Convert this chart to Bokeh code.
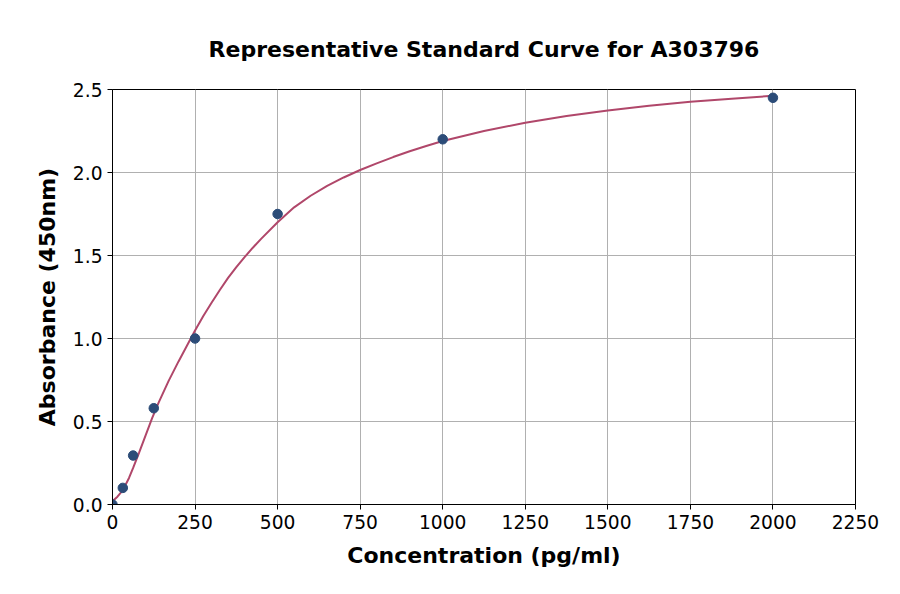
from bokeh.plotting import figure
from bokeh.models import Range1d, FixedTicker, NumeralTickFormatter
from bokeh.embed import file_html
from bokeh.resources import INLINE

# Standard points
conc = [0, 31.25, 62.5, 125, 250, 500, 1000, 2000]
absorb = [0.0, 0.1, 0.295, 0.58, 1.0, 1.75, 2.2, 2.45]

# Fitted curve
curve_x = [0, 15, 31, 50, 62.5, 80, 100, 120, 140, 170, 200, 237, 250, 275, 300,
           325, 350, 375, 400, 425, 450, 500, 550, 600, 650, 700, 750, 800, 850,
           900, 950, 1000, 1125, 1250, 1375, 1500, 1625, 1750, 1875, 2000]
curve_y = [0.02, 0.047, 0.085, 0.16, 0.22, 0.31, 0.415, 0.52, 0.615, 0.745, 0.862,
           1.0, 1.048, 1.135, 1.215, 1.292, 1.365, 1.43, 1.49, 1.547, 1.60, 1.70,
           1.79, 1.86, 1.92, 1.97, 2.015, 2.055, 2.093, 2.128, 2.16, 2.19, 2.25,
           2.30, 2.34, 2.374, 2.402, 2.426, 2.445, 2.462]

x_ticks = [0, 250, 500, 750, 1000, 1250, 1500, 1750, 2000, 2250]
y_ticks = [0.0, 0.5, 1.0, 1.5, 2.0, 2.5]

FONT = "DejaVu Sans"

p = figure(width=892, height=586, output_backend="svg", toolbar_location=None,
           x_range=Range1d(0, 2250), y_range=Range1d(0, 2.5),
           frame_width=743, frame_height=415,
           min_border_left=112, min_border_right=37, min_border_top=89, min_border_bottom=82,
           title="Representative Standard Curve for A303796")

p.title.align = "center"
p.title.text_font = FONT
p.title.text_font_size = "22px"
p.title.text_font_style = "bold"
p.title.text_color = "black"
p.title.standoff = 55

p.outline_line_color = "black"
p.outline_line_width = 1

p.line(curve_x, curve_y, line_color="#b0476a", line_width=2)
p.scatter(conc, absorb, size=9.5, fill_color="#2c4c78", line_color="#2c4c78")

p.xaxis.ticker = FixedTicker(ticks=x_ticks)
p.yaxis.ticker = FixedTicker(ticks=y_ticks)
p.yaxis.formatter = NumeralTickFormatter(format="0.0")
p.xaxis.axis_label = "Concentration (pg/ml)"
p.yaxis.axis_label = "Absorbance (450nm)"
p.xaxis.axis_label_standoff = 11
p.yaxis.axis_label_standoff = 10

for ax in (p.xaxis, p.yaxis):
    ax.axis_label_text_font = FONT
    ax.axis_label_text_font_size = "22px"
    ax.axis_label_text_font_style = "bold"
    ax.axis_label_text_color = "black"
    ax.major_label_text_font = FONT
    ax.major_label_text_font_size = "14pt"
    ax.major_label_text_color = "black"
    ax.minor_tick_line_color = None
    ax.major_tick_out = 5
    ax.major_tick_in = 0
    ax.axis_line_color = "black"
    ax.major_tick_line_color = "black"

p.grid.grid_line_color = "#b0b0b0"
p.grid.grid_line_width = 1

open("out.html", "w").write(file_html(p, INLINE))
